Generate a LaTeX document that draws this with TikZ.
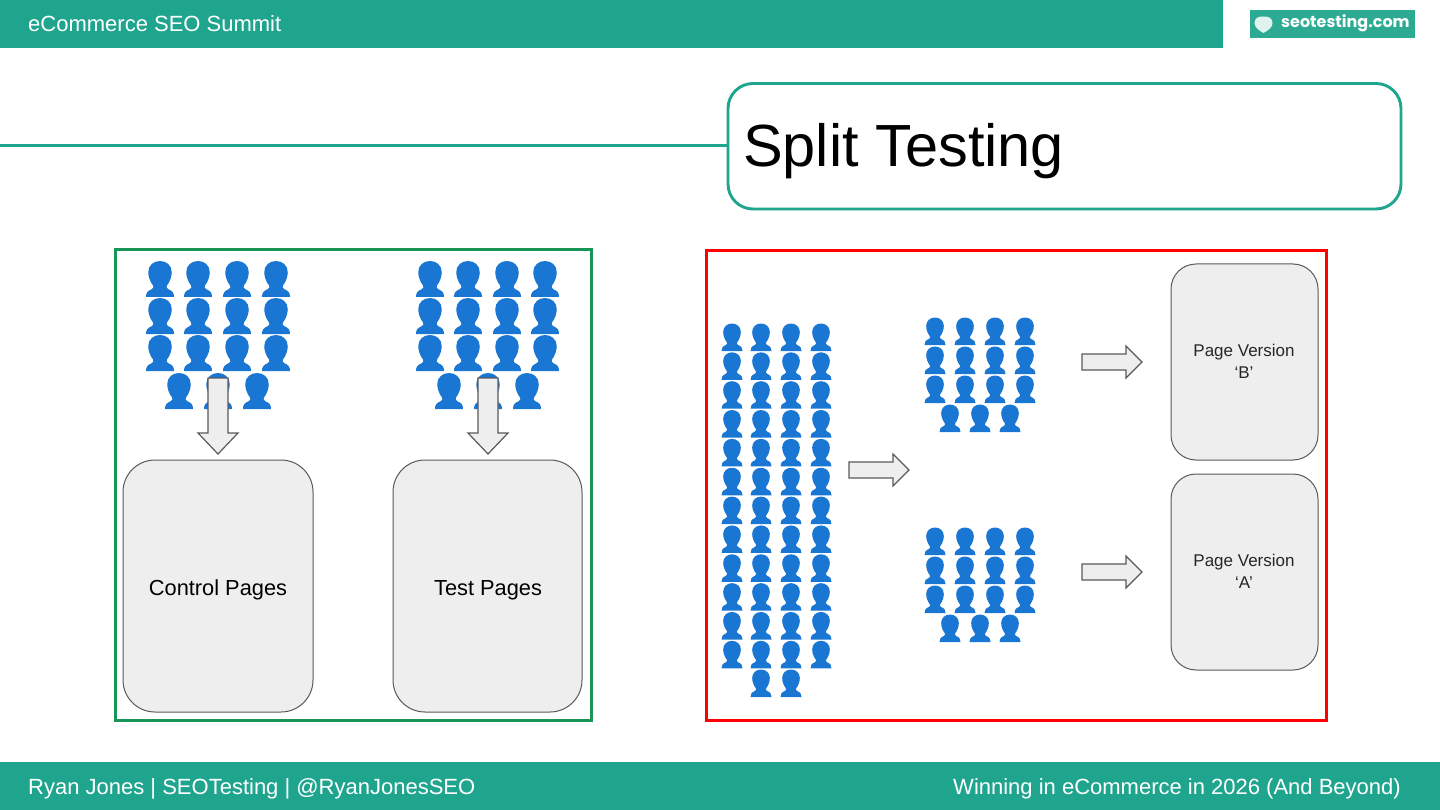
\documentclass[tikz,border=0pt]{standalone}
\usepackage{fontspec}
\setmainfont{Liberation Sans}
\newfontfamily\logofont{Poppins}
\usetikzlibrary{calc}
\definecolor{teal1}{HTML}{1FA58E}
\definecolor{logoteal}{HTML}{2DAB92}
\definecolor{peopleblue}{HTML}{1976D2}
\definecolor{boxfill}{HTML}{EEEEEE}
\definecolor{boxline}{HTML}{595959}
\definecolor{greenframe}{HTML}{189657}
\newcommand{\fsz}[1]{\fontsize{#1}{#1}\selectfont}
\tikzset{
  x=1pt,y=-1pt,
  bar/.style={fill=teal1,draw=none},
  bartext/.style={text=white,font=\fsz{22},inner sep=0pt},
  pagebox/.style={draw=boxline,fill=boxfill,line width=1pt},
  blockarrow/.style={draw=boxline,fill=boxfill,line width=1.2pt,line join=miter},
}
% one person: bottom centre at origin, unit height, unit width
\newcommand{\personicon}{%
  \fill[peopleblue] (-0.5,0) .. controls (-0.5,0.11) and (-0.45,0.17) .. (-0.3,0.215)
      .. controls (-0.23,0.24) and (-0.22,0.28) .. (-0.25,0.32)
      .. controls (-0.35,0.42) and (-0.42,0.56) .. (-0.42,0.69)
      .. controls (-0.42,0.88) and (-0.23,1) .. (0,1)
      .. controls (0.23,1) and (0.42,0.88) .. (0.42,0.69)
      .. controls (0.42,0.56) and (0.35,0.42) .. (0.25,0.32)
      .. controls (0.22,0.28) and (0.23,0.24) .. (0.3,0.215)
      .. controls (0.45,0.17) and (0.5,0.11) .. (0.5,0) -- cycle;
}
\newcommand{\crowdrow}[4]{% width, height, bottom y, x list
  \foreach \px in {#4} {\begin{scope}[shift={(\px,#3)},xscale=#1,yscale=-#2]\personicon\end{scope}}}
\begin{document}
\begin{tikzpicture}
\useasboundingbox (0,0) rectangle (1440,810);
% bars
\fill[bar] (0,0) rectangle (1223,48);
\fill[bar] (0,762) rectangle (1440,810);
\node[bartext,anchor=base west] (hdr) at (28,32) {eCommerce SEO Summit};
\node[bartext,anchor=base west] (ftl) at (28,794) {Ryan Jones | SEOTesting | @RyanJonesSEO};
\node[bartext,anchor=base east] (ftr) at (1401,794) {Winning in eCommerce in 2026 (And Beyond)};
% logo
\fill[logoteal] (1250,10) rectangle (1415,38);
\fill[white!85!logoteal] (1263.5,33) .. controls (1258,30) and (1254.5,27) .. (1254.5,23)
  .. controls (1254.5,18.5) and (1258,16) .. (1263,16.5)
  .. controls (1269,16) and (1272.5,18.5) .. (1272.5,23)
  .. controls (1272.5,27) and (1269,30) .. (1263.5,33) -- cycle;
\node[anchor=base west,inner sep=0pt,text=white] (logo) at (1281,28) {\logofont\bfseries\fsz{16}seotesting.com};
% title
\draw[teal1,line width=2.9pt] (0,145.8) -- (728,145.8);
\draw[teal1,line width=2.9pt,fill=white,rounded corners=25pt] (728,83.5) rectangle (1401,209);
\node[anchor=base west,inner sep=0pt] (title) at (743,167) {\fsz{59.5}Split Testing};
% frames
\draw[greenframe,line width=2.9pt] (115.5,249.5) rectangle (591.5,720.5);
\draw[red,line width=2.9pt] (706.5,250.5) rectangle (1326.5,720.5);
% left crowd A
\foreach \rowy in {297,334,371} {\crowdrow{28}{36}{\rowy}{160,198,237,276}}
\crowdrow{28}{36}{409}{179,218,257}
% left crowd B
\foreach \rowy in {297,334,371} {\crowdrow{28}{36}{\rowy}{430,468,507,545}}
\crowdrow{28}{36}{409}{449,488,527}
% down arrows
\foreach \cx in {218,488} {
  \draw[blockarrow] (\cx-10,378) -- (\cx+10,378) -- (\cx+10,433) -- (\cx+20,433) -- (\cx,454) -- (\cx-20,433) -- (\cx-10,433) -- cycle;
}
% big boxes
\draw[pagebox,rounded corners=32pt] (123,460) rectangle (313,712);
\draw[pagebox,rounded corners=32pt] (393,460) rectangle (582,712);
\node[font=\fsz{21.8},inner sep=0pt,anchor=base] (ctrl) at (218,595) {Control Pages};
\node[font=\fsz{21.8},inner sep=0pt,anchor=base] (test) at (488,595) {Test Pages};
% right crowd full
\foreach \i in {0,...,11} {
  \pgfmathsetmacro{\rowy}{351+28.85*\i}
  \crowdrow{21}{27.5}{\rowy}{732,761,791,821}
}
\crowdrow{21}{27.5}{697}{761,791}
% split crowds
\foreach \oy in {0,210} {
  \foreach \i in {0,1,2} {
    \pgfmathsetmacro{\rowy}{345+\oy+29*\i}
    \crowdrow{21}{27.5}{\rowy}{935,965,995,1025}
  }
  \pgfmathsetmacro{\rowy}{432+\oy}
  \crowdrow{21}{27.5}{\rowy}{950,980,1010}
}
% right arrows
\foreach \ax/\ay in {849/470,1082/362,1082/572} {
  \draw[blockarrow] (\ax,\ay-8) -- (\ax+44,\ay-8) -- (\ax+44,\ay-16) -- (\ax+60,\ay) -- (\ax+44,\ay+16) -- (\ax+44,\ay+8) -- (\ax,\ay+8) -- cycle;
}
% page version boxes
\draw[pagebox,rounded corners=25pt] (1171,264) rectangle (1318,460);
\draw[pagebox,rounded corners=25pt] (1171,474) rectangle (1318,670);
\node[font=\fsz{17},inner sep=0pt,align=center,text=black!85] (pb) at (1244,361) {Page Version\\[5pt]‘B’};
\node[font=\fsz{17},inner sep=0pt,align=center,text=black!85] (pa) at (1244,571) {Page Version\\[5pt]‘A’};
\end{tikzpicture}
\end{document}
